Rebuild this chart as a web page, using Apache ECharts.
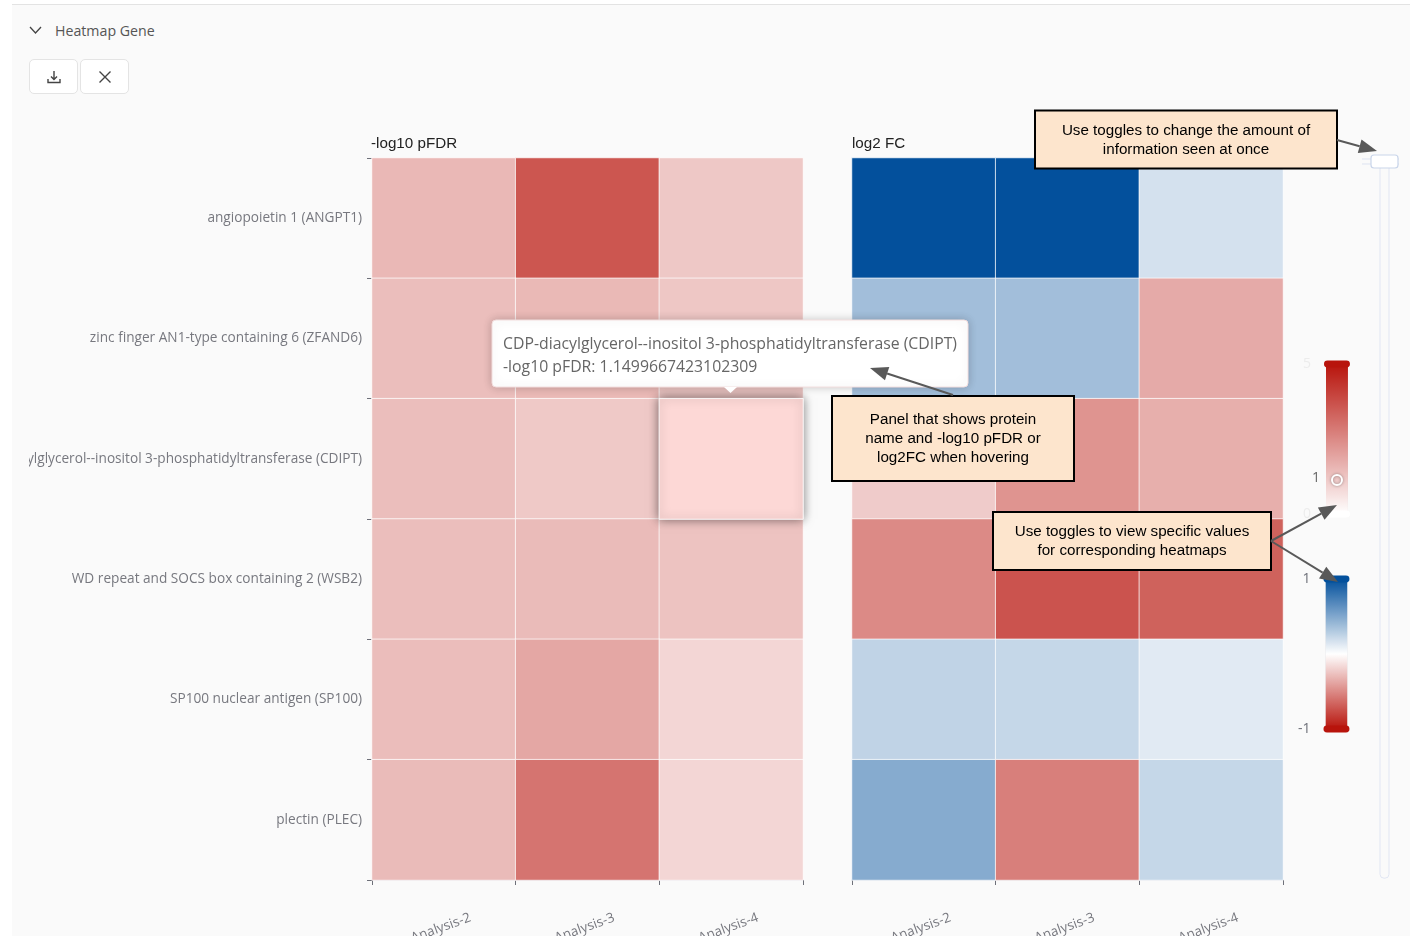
<!DOCTYPE html>
<html><head><meta charset="utf-8">
<style>
html,body{margin:0;padding:0;width:1416px;height:936px;background:#fff;overflow:hidden;font-family:"Open Sans","Noto Sans",sans-serif}
#panel{position:absolute;left:12px;top:4px;width:1398px;height:932px;background:#fafafa;border-top:1px solid #e3e3e3;box-sizing:border-box}
#chart{position:absolute;left:29px;top:0;width:1387px;height:936px;overflow:hidden}
#head{position:absolute;left:55px;top:21px;font-size:14.2px;color:#555;line-height:20px}
.btn{position:absolute;top:59px;width:49px;height:35px;box-sizing:border-box;background:#fff;border:1px solid #e4e4e4;border-radius:5px}
.btn svg,#chev{position:absolute}
.btn svg{left:16px;top:9px}
</style>
<script src="https://cdn.jsdelivr.net/npm/echarts@6/dist/echarts.min.js"></script>
</head><body>
<div id="panel"></div>
<svg id="chev" style="left:29px;top:25px" width="13" height="10"><path d="M1 2 L6.5 8 L12 2" fill="none" stroke="#444" stroke-width="1.3"/></svg>
<div id="head">Heatmap Gene</div>
<div class="btn" style="left:29px"><svg width="16" height="16"><path d="M8 2V10M5 7.5L8 10.5L11 7.5M2 10V13.5H14V10" fill="none" stroke="#444" stroke-width="1.4"/></svg></div>
<div class="btn" style="left:80px"><svg width="16" height="16"><path d="M2.5 2.5L13.5 13.5M13.5 2.5L2.5 13.5" fill="none" stroke="#444" stroke-width="1.4"/></svg></div>
<div id="chart"></div>
<script>
const proteins = [
  'angiopoietin 1 (ANGPT1)',
  'zinc finger AN1-type containing 6 (ZFAND6)',
  'CDP-diacylglycerol--inositol 3-phosphatidyltransferase (CDIPT)',
  'WD repeat and SOCS box containing 2 (WSB2)',
  'SP100 nuclear antigen (SP100)',
  'plectin (PLEC)'
];
const analyses = ['Analysis-2', 'Analysis-3', 'Analysis-4'];
const pFDR = [
  [1.51, 3.60, 1.17],
  [1.38, 1.50, 1.20],
  [1.38, 1.15, 1.15],
  [1.38, 1.45, 1.27],
  [1.40, 1.87, 0.87],
  [1.45, 2.95, 0.87]
];
const log2FC = [
  [1.00, 1.00, 0.17],
  [0.37, 0.37, -0.36],
  [-0.22, -0.455, -0.34],
  [-0.50, -0.73, -0.67],
  [0.25, 0.23, 0.12],
  [0.48, -0.545, 0.23]
];
const hovered = {row: 2, col: 2};
const tooltipLines = ['CDP-diacylglycerol--inositol 3-phosphatidyltransferase (CDIPT)', '-log10 pFDR: 1.1499667423102309'];
const notes = {
  toggles: 'Use toggles to change the amount of\ninformation seen at once',
  panel: 'Panel that shows protein\nname and -log10 pFDR or\nlog2FC when hovering',
  specific: 'Use toggles to view specific values\nfor corresponding heatmaps'
};

const OX = 29; // chart canvas starts here on the page
const X = x => x - OX;
const FONT = '"Open Sans","Noto Sans",sans-serif';
const ARIAL = '"Liberation Sans",Arial,sans-serif';
const GREY = '#6e7079';

function cells(matrix, hl) {
  const out = [], last = [];
  matrix.forEach((r, i) => r.forEach((v, j) => {
    if (hl && hl.row === i && hl.col === j) {
      last.push({value: [j, i, v], itemStyle: {color: '#fdd8d6', borderColor: 'rgba(255,255,255,0.9)', shadowBlur: 10, shadowColor: 'rgba(0,0,0,0.5)'}});
    } else out.push([j, i, v]);
  }));
  return out.concat(last);
}
function xAxis(g) {
  return {type: 'category', gridIndex: g, data: analyses, position: 'bottom',
    axisLine: {show: true, lineStyle: {color: '#e0e3ea', width: 2}},
    axisTick: {show: true, length: 5, lineStyle: {color: GREY}},
    axisLabel: {rotate: 20, align: 'center', verticalAlign: 'middle', margin: 47, padding: [0, 6, 0, 0], fontFamily: FONT, fontSize: 13.5, color: '#77787f', interval: 0},
    splitLine: {show: false}};
}
function yAxis(g, labels) {
  return {type: 'category', gridIndex: g, data: proteins, inverse: true,
    axisLine: {show: false},
    axisTick: {show: labels, length: 5, lineStyle: {color: GREY}},
    axisLabel: {show: labels, margin: 10, padding: [0, 0, 2, 0], fontFamily: FONT, fontSize: 13.65, color: '#77787f', interval: 0},
    splitLine: {show: false}};
}
function series(g, data) {
  return {type: 'heatmap', xAxisIndex: g, yAxisIndex: g, data,
    itemStyle: {borderColor: 'rgba(255,255,255,0.75)', borderWidth: 1}, progressive: 0, animation: false};
}
const handle = 'path://M3.5,0 L22.5,0 A3.5,3.5 0 0 1 22.5,7 L3.5,7 A3.5,3.5 0 0 1 3.5,0 Z';
function vm(idx, min, max, colors, left, top, labelColor) {
  return {type: 'continuous', seriesIndex: idx, min, max, calculable: true, realtime: false,
    inRange: {color: colors}, orient: 'vertical', align: 'right', padding: 0,
    left: X(left), top, itemWidth: 22, itemHeight: 150, handleIcon: handle, handleSize: '118%',
    handleStyle: {borderColor: 'rgba(255,255,255,0.6)', borderWidth: 0},
    textStyle: {color: labelColor, fontFamily: FONT, fontSize: 14}, hoverLink: false};
}
function box(x0, y0, x1, y1, text, lh, cy) {
  return [
    {type: 'rect', z: 100, shape: {x: X(x0), y: y0, width: x1 - x0, height: y1 - y0},
     style: {fill: '#fde5cd', stroke: '#000', lineWidth: 2}},
    {type: 'text', z: 101, x: X((x0 + x1) / 2), y: cy,
     style: {text, fill: '#000', font: '15.2px ' + ARIAL, align: 'center', verticalAlign: 'middle', lineHeight: lh}}
  ];
}
function arrow(x0, y0, x1, y1) {
  const d = Math.hypot(x1 - x0, y1 - y0), ux = (x1 - x0) / d, uy = (y1 - y0) / d, L = 18, W = 7;
  const bx = x1 - ux * L, by = y1 - uy * L;
  return [
    {type: 'line', z: 102, shape: {x1: X(x0), y1: y0, x2: X(bx), y2: by}, style: {stroke: '#595959', lineWidth: 2}},
    {type: 'polygon', z: 102, shape: {points: [[X(x1), y1], [X(bx - uy * W), by + ux * W], [X(bx + uy * W), by - ux * W]]}, style: {fill: '#595959'}}
  ];
}
const graphics = [
  // tooltip panel
  {type: 'rect', z: 90, shape: {x: X(492), y: 320, width: 476, height: 67, r: 4},
   style: {fill: '#fff', stroke: '#f3dede', lineWidth: 1, shadowBlur: 10, shadowColor: 'rgba(0,0,0,0.2)'}},
  {type: 'polygon', z: 90, shape: {points: [[X(724), 387], [X(737), 387], [X(730.5), 393]]}, style: {fill: '#fff'}},
  {type: 'text', z: 91, x: X(503), y: 356,
   style: {text: tooltipLines.join('\n'), fill: '#666', font: '15.8px ' + FONT, lineHeight: 23, verticalAlign: 'middle'}},
  // slider handle
  {type: 'line', z: 50, shape: {x1: X(1362), y1: 159, x2: X(1371), y2: 159}, style: {stroke: '#dde3f1', lineWidth: 1}},
  {type: 'line', z: 50, shape: {x1: X(1362), y1: 164, x2: X(1371), y2: 164}, style: {stroke: '#dde3f1', lineWidth: 1}},
  {type: 'line', z: 50, shape: {x1: X(1398), y1: 159, x2: X(1399), y2: 159}, style: {stroke: '#dde3f1', lineWidth: 1}},
  {type: 'line', z: 50, shape: {x1: X(1398), y1: 164, x2: X(1399), y2: 164}, style: {stroke: '#dde3f1', lineWidth: 1}},
  {type: 'rect', z: 51, shape: {x: X(1371), y: 155, width: 27, height: 13, r: 3}, style: {fill: '#fff', stroke: '#c9d5ea', lineWidth: 1.2}},
  // hover indicator on the colour scale
  {type: 'circle', z: 60, shape: {cx: X(1337), cy: 480, r: 5}, style: {fill: 'transparent', stroke: '#fff', lineWidth: 2, shadowBlur: 3, shadowColor: 'rgba(0,0,0,0.4)'}},
  {type: 'text', z: 60, x: X(1316), y: 478, style: {text: '1', fill: '#666', font: '14px ' + FONT, align: 'center', verticalAlign: 'middle'}},
  ...box(1035, 110.5, 1337, 168.5, notes.toggles, 19, 140),
  ...box(832, 396, 1074, 481, notes.panel, 19, 438.5),
  ...box(993, 512, 1271, 570, notes.specific, 19, 541),
  ...arrow(1337, 140, 1377, 151),
  ...arrow(953, 395, 870, 368),
  ...arrow(1271, 541, 1337, 505),
  ...arrow(1271, 541, 1338, 582)
];

const option = {
  animation: false,
  backgroundColor: 'transparent',
  tooltip: {show: false},
  title: [
    {text: '-log10 pFDR', left: X(371), top: 136, padding: 0, textStyle: {fontFamily: ARIAL, fontSize: 15.2, fontWeight: 'normal', color: '#222'}},
    {text: 'log2 FC', left: X(852), top: 136, padding: 0, textStyle: {fontFamily: ARIAL, fontSize: 15.2, fontWeight: 'normal', color: '#222'}}
  ],
  grid: [
    {left: X(372), top: 158, width: 431, height: 722, outerBoundsMode: 'none'},
    {left: X(852), top: 158, width: 431, height: 722, outerBoundsMode: 'none'}
  ],
  xAxis: [xAxis(0), xAxis(1)],
  yAxis: [yAxis(0, true), yAxis(1, false)],
  visualMap: [
    vm(0, 0, 5, ['#ffffff', '#b8140c'], 1303, 357, '#ececec'),
    vm(1, -1, 1, ['#b8140c', '#ffffff', '#03509c'], 1298, 572, GREY)
  ],
  dataZoom: [{type: 'slider', yAxisIndex: [0, 1], left: X(1379), top: 155, width: 10, height: 723, start: 0, end: 100,
    showDetail: false, showDataShadow: false, brushSelect: false, handleSize: 0, moveHandleSize: 0,
    borderColor: '#e1e6f3', backgroundColor: 'transparent', fillerColor: 'transparent', borderRadius: 4, filterMode: 'none'}],
  series: [series(0, cells(pFDR, hovered)), series(1, cells(log2FC))],
  graphic: graphics
};
const chart = echarts.init(document.getElementById('chart'), null, {renderer: 'canvas'});
chart.setOption(option);
</script>
</body></html>
